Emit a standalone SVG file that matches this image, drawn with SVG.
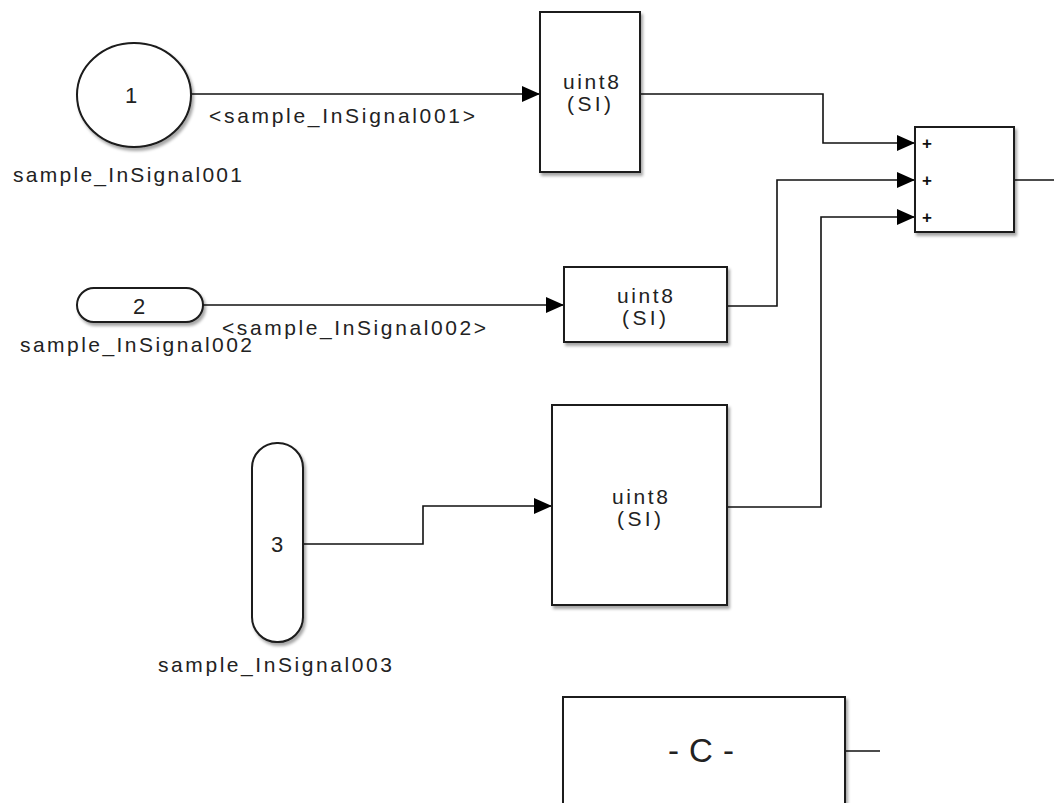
<svg xmlns="http://www.w3.org/2000/svg" width="1054" height="803" viewBox="0 0 1054 803">
<style>
.blk{fill:#fff;stroke:#1a1a1a;stroke-width:2;filter:url(#sh)}
.ln{fill:none;stroke:#111;stroke-width:1.6}
.t{font-family:"Liberation Sans",Arial,sans-serif;font-size:21px;fill:#222}
.num{font-family:"Liberation Sans",Arial,sans-serif;font-size:22px;fill:#222;text-anchor:middle}
.bt{font-family:"Liberation Sans",Arial,sans-serif;font-size:21px;fill:#222;text-anchor:middle}
.plus{font-family:"Liberation Sans",Arial,sans-serif;font-size:17px;font-weight:bold;fill:#111}
.k{font-family:"Liberation Sans",Arial,sans-serif;font-size:33px;fill:#222;text-anchor:middle}
</style>
<defs>
<filter id="sh" x="-10%" y="-10%" width="130%" height="130%">
<feDropShadow dx="2" dy="3" stdDeviation="1.6" flood-color="#000" flood-opacity="0.35"/>
</filter>
<marker id="ah" markerUnits="userSpaceOnUse" markerWidth="18" markerHeight="16" refX="18" refY="8" orient="auto">
<path d="M0,0 L18,8 L0,16 z" fill="#000"/>
</marker>
</defs>

<g id="connectors">
<path class="ln" d="M191,94 H540" marker-end="url(#ah)"/>
<path class="ln" d="M203,305 H564" marker-end="url(#ah)"/>
<path class="ln" d="M303,544 H423 V506 H552" marker-end="url(#ah)"/>
<path class="ln" d="M640,94 H823 V143 H915" marker-end="url(#ah)"/>
<path class="ln" d="M727,306 H777 V180 H915" marker-end="url(#ah)"/>
<path class="ln" d="M727,507 H821 V217 H915" marker-end="url(#ah)"/>
<path class="ln" d="M1014,180 H1054"/>
<path class="ln" d="M845,751 H880"/>
<text class="t" x="209" y="123" textLength="266" lengthAdjust="spacing">&lt;sample_InSignal001&gt;</text>
<text class="t" x="222" y="335" textLength="264" lengthAdjust="spacing">&lt;sample_InSignal002&gt;</text>
</g>

<g id="inport1">
<ellipse class="blk" cx="134" cy="95" rx="57" ry="52"/>
<text class="num" x="131" y="103">1</text>
<text class="t" x="13" y="182" textLength="229" lengthAdjust="spacing">sample_InSignal001</text>
</g>

<g id="inport2">
<rect class="blk" x="77" y="288" width="126" height="34" rx="17" ry="17"/>
<text class="num" x="139" y="314">2</text>
<text class="t" x="20" y="352" textLength="232" lengthAdjust="spacing">sample_InSignal002</text>
</g>

<g id="inport3">
<rect class="blk" x="252" y="443" width="51" height="199" rx="25" ry="25"/>
<text class="num" x="277" y="552">3</text>
<text class="t" x="158" y="672" textLength="234" lengthAdjust="spacing">sample_InSignal003</text>
</g>

<g id="convert1">
<rect class="blk" x="540" y="12" width="100" height="160"/>
<text class="bt" x="591" y="89" textLength="56" lengthAdjust="spacing">uint8</text>
<text class="bt" x="589" y="111" textLength="44" lengthAdjust="spacing">(SI)</text>
</g>

<g id="convert2">
<rect class="blk" x="564" y="267" width="163" height="75"/>
<text class="bt" x="645" y="303" textLength="56" lengthAdjust="spacing">uint8</text>
<text class="bt" x="644" y="325" textLength="44" lengthAdjust="spacing">(SI)</text>
</g>

<g id="convert3">
<rect class="blk" x="552" y="405" width="175" height="200"/>
<text class="bt" x="640" y="504" textLength="56" lengthAdjust="spacing">uint8</text>
<text class="bt" x="639" y="526" textLength="44" lengthAdjust="spacing">(SI)</text>
</g>

<g id="sum">
<rect class="blk" x="915" y="127" width="99" height="105"/>
<text class="plus" x="922" y="149">+</text>
<text class="plus" x="922" y="186">+</text>
<text class="plus" x="922" y="223">+</text>
</g>

<g id="constant">
<rect class="blk" x="563" y="697" width="282" height="120"/>
<text class="k" x="701" y="762" textLength="66" lengthAdjust="spacing">-C-</text>
</g>
</svg>
